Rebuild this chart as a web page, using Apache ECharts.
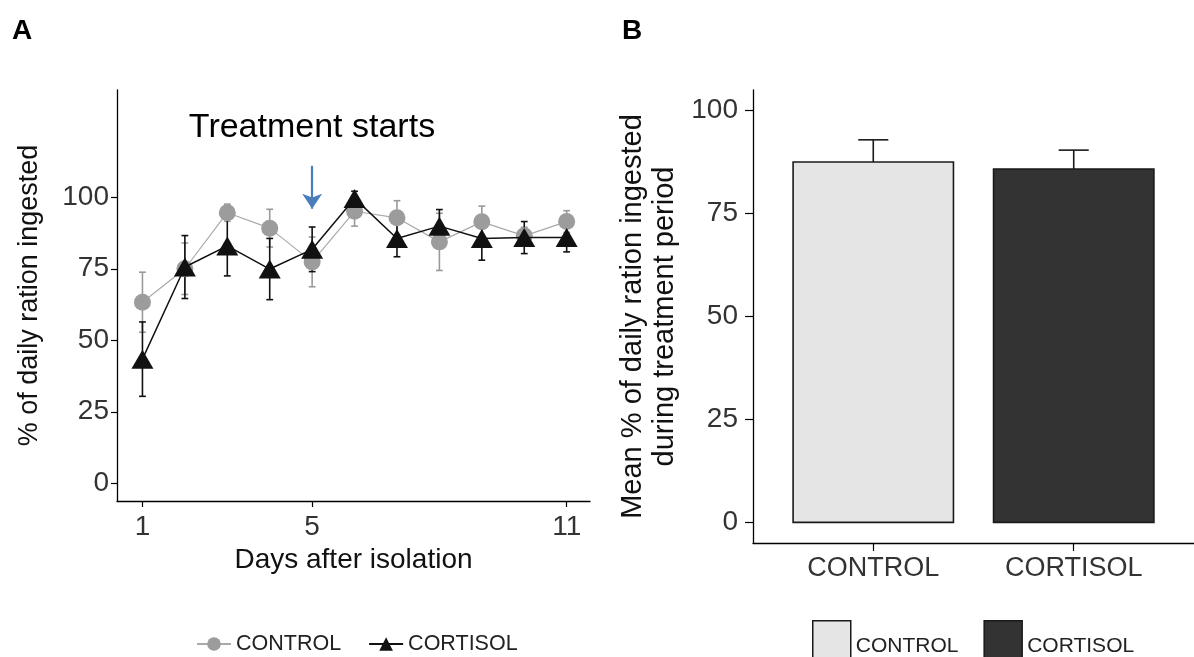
<!DOCTYPE html>
<html>
<head>
<meta charset="utf-8">
<script src="https://cdn.jsdelivr.net/npm/echarts@6/dist/echarts.min.js"></script>
<style>
html,body{margin:0;padding:0;background:#fff;}
#chart{width:1194px;height:657px;}
</style>
</head>
<body>
<div id="chart"></div>
<script>
// ---- Data (panel A) ----
const days = [1, 2, 3, 4, 5, 6, 7, 8, 9, 10, 11];
const dayTicks = [1, 5, 11];
const yTicksA = [0, 25, 50, 75, 100];
const controlMean  = [63.3, 75.0, 94.6, 89.2, 77.4, 95.1, 92.8, 84.4, 91.4, 86.5, 91.5];
const controlSE    = [10.5, 9.0, 3.0, 6.6, 8.7, 5.2, 6.0, 10.0, 5.5, 3.0, 3.8];
const cortisolMean = [43.4, 75.6, 83.0, 74.9, 81.8, 99.6, 85.6, 89.9, 85.6, 85.9, 85.9];
const cortisolSE   = [13.0, 11.0, 10.5, 10.7, 7.8, 2.5, 6.4, 5.8, 7.6, 5.6, 5.0];
const treatmentDay = 5;

// ---- Data (panel B) ----
const groups = ['CONTROL', 'CORTISOL'];
const barMeans = [87.5, 85.8];
const barSE = [5.4, 4.6];
const yTicksB = [0, 25, 50, 75, 100];

const FONT = "'Liberation Sans', Arial, sans-serif";
const chart = echarts.init(document.getElementById('chart'));

function rows(xs, m, s) { return xs.map((x, i) => [x, m[i], s[i]]); }

function errRender(color, half) {
  return function (params, api) {
    const x = api.value(0), m = api.value(1), s = api.value(2);
    const top = api.coord([x, m + s]);
    const bot = api.coord([x, m - s]);
    const w = api.size([half, 0])[0];
    const st = { stroke: color, lineWidth: 1.6 };
    return { type: 'group', children: [
      { type: 'line', shape: { x1: top[0], y1: top[1], x2: bot[0], y2: bot[1] }, style: st },
      { type: 'line', shape: { x1: top[0] - w, y1: top[1], x2: top[0] + w, y2: top[1] }, style: st },
      { type: 'line', shape: { x1: bot[0] - w, y1: bot[1], x2: bot[0] + w, y2: bot[1] }, style: st }
    ]};
  };
}

function barRender(fill) {
  return function (params, api) {
    const x = api.value(0), m = api.value(1), s = api.value(2);
    const p0 = api.coord([x - 0.4, m]);
    const p1 = api.coord([x + 0.4, 0]);
    const top = api.coord([x, m + s]);
    const w = api.size([0.075, 0])[0];
    const st = { stroke: '#1a1a1a', lineWidth: 1.6 };
    return { type: 'group', children: [
      { type: 'line', shape: { x1: top[0], y1: top[1], x2: top[0], y2: p0[1] }, style: st },
      { type: 'line', shape: { x1: top[0] - w, y1: top[1], x2: top[0] + w, y2: top[1] }, style: st },
      { type: 'rect', shape: { x: p0[0], y: p0[1], width: p1[0] - p0[0], height: p1[1] - p0[1] },
        style: { fill: fill, stroke: '#1a1a1a', lineWidth: 1.6 } }
    ]};
  };
}

const axisLine = { show: true, onZero: false, lineStyle: { color: '#000', width: 1.3 } };

const option = {
  backgroundColor: '#fff',
  animation: false,
  textStyle: { fontFamily: FONT },
  title: [
    { text: 'A', left: 7, top: 12, textStyle: { fontFamily: FONT, fontSize: 28, fontWeight: 'bold', color: '#000' } },
    { text: 'B', left: 617, top: 12, textStyle: { fontFamily: FONT, fontSize: 28, fontWeight: 'bold', color: '#000' } }
  ],
  graphic: [
    { type: 'text', x: 312, y: 128, style: { text: 'Treatment starts', textAlign: 'center', textVerticalAlign: 'middle',
      font: "34px 'Liberation Sans', Arial, sans-serif", fill: '#000' } }
  ],
  legend: [
    { left: 196, top: 633, padding: 0, itemWidth: 34, itemHeight: 17, itemGap: 27,
      textStyle: { fontFamily: FONT, fontSize: 21.5, color: '#222' },
      data: ['CONTROL', 'CORTISOL'] },
    { left: 812, top: 620, padding: 0, itemWidth: 38, itemHeight: 50, itemGap: 25,
      textStyle: { fontFamily: FONT, fontSize: 21, color: '#222' },
      formatter: n => n.replace('bar_', ''),
      data: [
        { name: 'bar_CONTROL', icon: 'rect', itemStyle: { color: '#e5e5e5', borderColor: '#1a1a1a', borderWidth: 1.5 } },
        { name: 'bar_CORTISOL', icon: 'rect', itemStyle: { color: '#333333', borderColor: '#1a1a1a', borderWidth: 1.5 } }
      ] }
  ],
  grid: [
    { left: 117, top: 90, width: 473, height: 411 },
    { left: 753, top: 90, width: 444, height: 453 }
  ],
  xAxis: [
    { gridIndex: 0, type: 'value', min: 0.4, max: 11.55,
      name: 'Days after isolation', nameLocation: 'middle', nameGap: 41,
      nameTextStyle: { fontFamily: FONT, fontSize: 28, color: '#111' },
      axisLine: axisLine, splitLine: { show: false },
      axisTick: { show: true, length: 6, lineStyle: { color: '#000', width: 1.2 }, customValues: dayTicks },
      axisLabel: { margin: 12, fontFamily: FONT, fontSize: 28, color: '#333', customValues: dayTicks } },
    { gridIndex: 1, type: 'value', min: 0.4, max: 2.6,
      axisLine: axisLine, splitLine: { show: false },
      axisTick: { show: true, length: 8, lineStyle: { color: '#000', width: 1.2 }, customValues: [1, 2] },
      axisLabel: { margin: 12, fontFamily: FONT, fontSize: 27, color: '#333', customValues: [1, 2],
        formatter: v => groups[Math.round(v) - 1] } }
  ],
  yAxis: [
    { gridIndex: 0, type: 'value', min: -6.2, max: 137.5,
      name: '% of daily ration ingested', nameLocation: 'middle', nameGap: 74,
      nameTextStyle: { fontFamily: FONT, fontSize: 27, color: '#111' },
      axisLine: axisLine, splitLine: { show: false },
      axisTick: { show: true, length: 6, lineStyle: { color: '#000', width: 1.2 }, customValues: yTicksA },
      axisLabel: { margin: 8, fontFamily: FONT, fontSize: 28, color: '#333', customValues: yTicksA } },
    { gridIndex: 1, type: 'value', min: -5, max: 105,
      name: 'Mean % of daily ration ingested\nduring treatment period', nameLocation: 'middle', nameGap: 72,
      nameTextStyle: { fontFamily: FONT, fontSize: 29, color: '#111', lineHeight: 32 },
      axisLine: axisLine, splitLine: { show: false },
      axisTick: { show: true, length: 8, lineStyle: { color: '#000', width: 1.2 }, customValues: yTicksB },
      axisLabel: { margin: 15, fontFamily: FONT, fontSize: 28, color: '#333', customValues: yTicksB } }
  ],
  series: [
    { name: 'controlErr', type: 'custom', xAxisIndex: 0, yAxisIndex: 0, z: 2,
      renderItem: errRender('#9a9a9a', 0.08), data: rows(days, controlMean, controlSE) },
    { name: 'cortisolErr', type: 'custom', xAxisIndex: 0, yAxisIndex: 0, z: 2,
      renderItem: errRender('#111', 0.08), data: rows(days, cortisolMean, cortisolSE) },
    { name: 'CONTROL', type: 'line', xAxisIndex: 0, yAxisIndex: 0, z: 3,
      data: days.map((d, i) => [d, controlMean[i]]),
      symbol: 'circle', symbolSize: 17,
      itemStyle: { color: '#9c9c9c' }, lineStyle: { color: '#aaaaaa', width: 1.2 },
      markLine: { silent: true, symbol: ['none', 'arrow'], symbolSize: [15, 15], label: { show: false },
        lineStyle: { color: '#4a7ebb', width: 2.2, type: 'solid' },
        data: [[{ coord: [treatmentDay, 111] }, { coord: [treatmentDay, 96] }]] } },
    { name: 'CORTISOL', type: 'line', xAxisIndex: 0, yAxisIndex: 0, z: 4,
      data: days.map((d, i) => [d, cortisolMean[i]]),
      symbol: 'triangle', symbolSize: [22, 19],
      itemStyle: { color: '#111' }, lineStyle: { color: '#111', width: 1.5 } },
    { name: 'bar_CONTROL', type: 'custom', xAxisIndex: 1, yAxisIndex: 1, z: 2,
      itemStyle: { color: '#e5e5e5' },
      renderItem: barRender('#e5e5e5'), data: [[1, barMeans[0], barSE[0]]] },
    { name: 'bar_CORTISOL', type: 'custom', xAxisIndex: 1, yAxisIndex: 1, z: 2,
      itemStyle: { color: '#333333' },
      renderItem: barRender('#333333'), data: [[2, barMeans[1], barSE[1]]] }
  ]
};
chart.setOption(option);
</script>
</body>
</html>
